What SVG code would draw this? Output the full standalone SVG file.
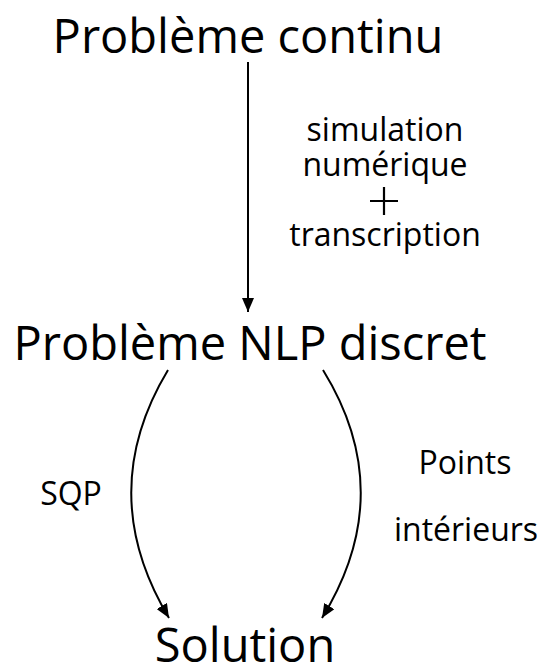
<svg xmlns="http://www.w3.org/2000/svg" width="547" height="671" viewBox="0 0 547 671">
<style>
text{font-family:"Open Sans","Noto Sans",sans-serif;fill:#000;text-anchor:middle}
.big{font-size:47px}
.lbl{font-size:32px}
.lbl2{font-size:32px}
.edge{fill:none;stroke:#000;stroke-width:2}
</style>
<defs>
<marker id="ah" viewBox="0 0 14 12" refX="14" refY="6" markerWidth="14" markerHeight="12" markerUnits="userSpaceOnUse" orient="auto">
<path d="M0,0 L14,6 L0,12 z" fill="#000"/>
</marker>
</defs>
<rect width="547" height="671" fill="#fff"/>
<g id="n1"><text class="big" x="248" y="53">Problème continu</text></g>
<g id="n2"><text class="big" x="250" y="360">Problème NLP discret</text></g>
<g id="n3"><text class="big" x="245" y="662">Solution</text></g>
<g id="edges">
<path class="edge" d="M248,62 L248,312" marker-end="url(#ah)"/>
<path class="edge" d="M168,370 Q94,493 169,618" marker-end="url(#ah)"/>
<path class="edge" d="M323,370 Q399,493 322,618" marker-end="url(#ah)"/>
</g>
<g id="labels">
<text class="lbl" x="385" y="141">simulation</text>
<text class="lbl" x="385" y="176">numérique</text>
<path d="M370,201 H398 M384,187 V215" stroke="#000" stroke-width="2.2"/>
<text class="lbl" x="385" y="246">transcription</text>
<text class="lbl2" x="71" y="505">SQP</text>
<text class="lbl2" x="465" y="474">Points</text>
<text class="lbl2" x="466" y="541">intérieurs</text>
</g>
</svg>
